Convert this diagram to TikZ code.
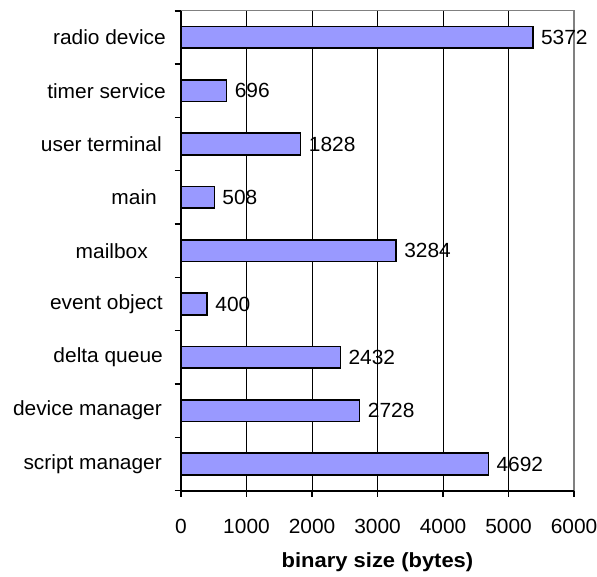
\documentclass[tikz,border=0pt]{standalone}
\usepackage{fontspec}
\setmainfont{Liberation Sans}
\begin{document}
\begin{tikzpicture}[x=1pt,y=-1pt,
  every node/.style={font=\fontsize{20.5}{24}\selectfont, inner sep=0pt, xscale=1.02},
  bar/.style={draw=black, line width=1.5pt, fill=barblue},
  grid line/.style={draw=black, line width=0.9pt},
  frame line/.style={draw=black!50, line width=1.4pt},
  axis line/.style={draw=black, line width=1.6pt},
  cat label/.style={anchor=east},
  val label/.style={anchor=west},
  tick label/.style={anchor=base}]
\definecolor{barblue}{HTML}{9999FF}
\useasboundingbox (0,0) rectangle (597,576);
\fill[white] (0,0) rectangle (597,576);
% scale: 0 bytes at x=181, 1000 bytes = 65.5pt; categories 53.33pt apart from y=10.7
\def\xo{181}
\def\xs{0.0655}
\def\yt{10.7}
\def\yb{490.7}
% vertical grid lines
\foreach \v in {1000,2000,3000,4000,5000}
  \draw[grid line] ({\xo+\xs*\v},\yt) -- ({\xo+\xs*\v},\yb);
% plot frame (top and right)
\draw[frame line] (\xo,\yt) -- ({\xo+\xs*6000},\yt) -- ({\xo+\xs*6000},\yb);
% bars with value labels and category names
\foreach \name/\val/\i/\rx in {radio device/5372/0/166, timer service/696/1/166,
    user terminal/1828/2/162, main/508/3/157, mailbox/3284/4/148,
    event object/400/5/163, delta queue/2432/6/163,
    device manager/2728/7/162, script manager/4692/8/162} {
  \pgfmathsetmacro{\yc}{\yt+53.33*(\i+0.5)}
  \pgfmathsetmacro{\xe}{\xo+\xs*\val}
  \draw[bar] (\xo,\yc-10.8) rectangle (\xe,\yc+10.8);
  \node[val label] (val\i) at (\xe+8,\yc) {\val};
  \node[cat label] (cat\i) at (\rx,\yc) {\name};
}
% category tick marks
\foreach \i in {0,...,9}
  \draw[axis line] (174.5,{\yt+53.33*\i}) -- (\xo,{\yt+53.33*\i});
% value tick marks and labels
\foreach \v in {0,1000,2000,3000,4000,5000,6000} {
  \draw[axis line] ({\xo+\xs*\v},\yb) -- ({\xo+\xs*\v},\yb+6);
  \node[tick label] (tick\v) at ({\xo+\xs*\v},533) {\v};
}
% axes
\draw[axis line] (\xo,\yt) -- (\xo,\yb+6);
\draw[axis line] (\xo,\yb) -- ({\xo+\xs*6000},\yb);
\node[font=\fontsize{20.5}{24}\selectfont\bfseries, xscale=1.05] (xtitle) at (377.5,562) {binary size (bytes)};
\end{tikzpicture}
\end{document}
